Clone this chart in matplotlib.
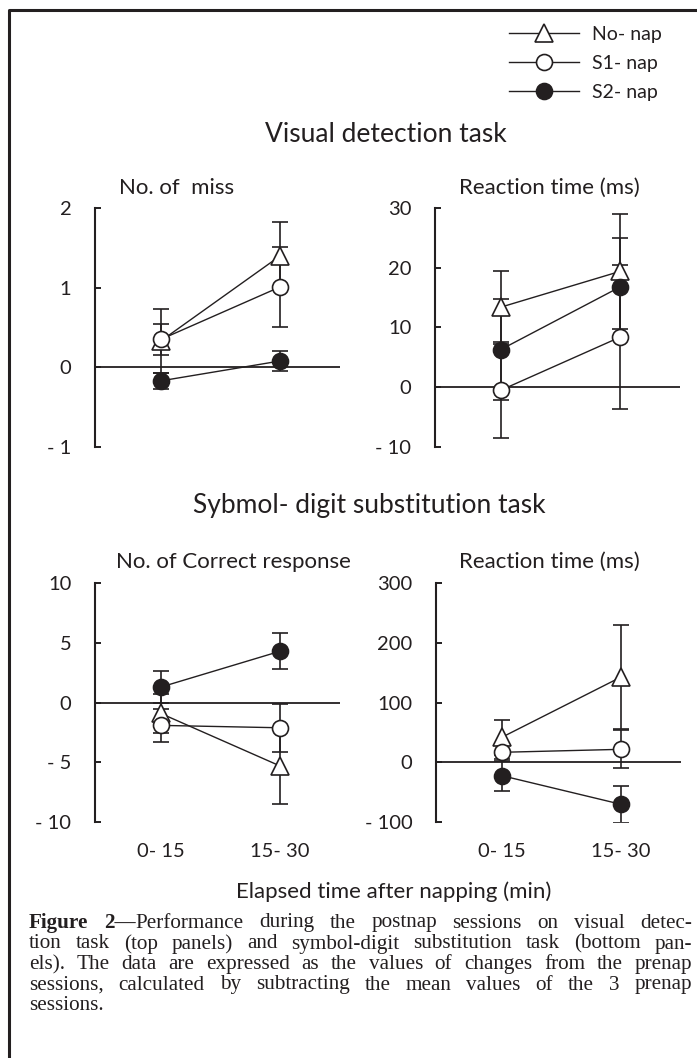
import matplotlib
matplotlib.use('Agg')
import matplotlib.pyplot as plt
from matplotlib.lines import Line2D

# Data
periods = ["0- 15", "15- 30"]
groups = ["No- nap", "S1- nap", "S2- nap"]

# visual detection: number of miss
miss_nonap = [0.33, 1.40]
miss_nonap_err = [0.40, 0.43]
miss_s1 = [0.35, 1.01]
miss_s1_err = [0.20, 0.50]
miss_s2 = [-0.17, 0.08]
miss_s2_err = [0.10, 0.13]

# visual detection: reaction time (ms)
vrt_nonap = [13.4, 19.4]
vrt_nonap_err = [6.1, 9.6]
vrt_s1 = [-0.5, 8.4]
vrt_s1_err = [8.0, 12.0]
vrt_s2 = [6.3, 16.8]
vrt_s2_err = [8.5, 8.2]

# symbol-digit: number of correct responses
corr_nonap = [-0.9, -5.3]
corr_nonap_err = [1.6, 3.2]
corr_s1 = [-1.9, -2.1]
corr_s1_err = [1.4, 2.0]
corr_s2 = [1.3, 4.3]
corr_s2_err = [1.35, 1.5]

# symbol-digit: reaction time (ms)
srt_nonap = [42, 143]
srt_nonap_err = [29, 87]
srt_s1 = [17, 22]
srt_s1_err = [12, 32]
srt_s2 = [-22, -70]
srt_s2_err = [25, 31]

ink = '#231f20'
W, H = 697, 1058
sans = 'Lato'
serif = 'Liberation Serif'


def px(x, y):
    return x / W, 1 - y / H


fig = plt.figure(figsize=(W / 100, H / 100), dpi=100)

styles = [dict(marker='^', mfc='white', ms=13),
          dict(marker='o', mfc='white', ms=11.5),
          dict(marker='o', mfc=ink, ms=11.5)]


def panel(rect, series, ylim, ticks, ticklabels, xlabels):
    ax = fig.add_axes(rect)
    x = [1, 2]
    handles = []
    for m, e in series:
        ax.errorbar(x, m, yerr=e, fmt='none', ecolor=ink, elinewidth=1.2,
                    capsize=5.8, capthick=1.2, zorder=2)
    for (m, e), st in zip(series, styles):
        h, = ax.plot(x, m, '-', color=ink, lw=1.0, mec=ink, mew=1.2,
                     zorder=3, **st)
        handles.append(h)
    ax.axhline(0, color=ink, lw=1.3, zorder=1)
    ax.set_xlim(0.45, 2.5)
    ax.set_ylim(*ylim)
    for s in ['top', 'right', 'bottom']:
        ax.spines[s].set_visible(False)
    ax.spines['left'].set_linewidth(1.5)
    ax.spines['left'].set_color(ink)
    ax.set_yticks(ticks)
    ax.set_yticklabels(ticklabels, fontsize=14.5, family=sans, color=ink)
    ax.tick_params(axis='y', direction='in', length=4, width=1.4,
                   color=ink, pad=17)
    ax.set_xticks(x)
    if xlabels:
        ax.set_xticklabels(periods, fontsize=14.5, family=sans, color=ink)
    else:
        ax.set_xticklabels([])
    ax.tick_params(axis='x', length=0, pad=15)
    ax.patch.set_visible(False)
    return handles


top_b, top_h = 1 - 447 / H, 239 / H
bot_b, bot_h = 1 - 822.3 / H, 239.3 / H
lw_ = 245 / W

handles = panel([95 / W, top_b, lw_, top_h],
                [(miss_nonap, miss_nonap_err), (miss_s1, miss_s1_err), (miss_s2, miss_s2_err)],
                (-1, 2), [-1, 0, 1, 2], ['- 1', '0', '1', '2'], False)
panel([435 / W, top_b, lw_, top_h],
      [(vrt_nonap, vrt_nonap_err), (vrt_s1, vrt_s1_err), (vrt_s2, vrt_s2_err)],
      (-10, 30), [-10, 0, 10, 20, 30], ['- 10', '0', '10', '20', '30'], False)
panel([95 / W, bot_b, lw_, bot_h],
      [(corr_nonap, corr_nonap_err), (corr_s1, corr_s1_err), (corr_s2, corr_s2_err)],
      (-10, 10), [-10, -5, 0, 5, 10], ['- 10', '- 5', '0', '5', '10'], True)
panel([436 / W, bot_b, lw_, bot_h],
      [(srt_nonap, srt_nonap_err), (srt_s1, srt_s1_err), (srt_s2, srt_s2_err)],
      (-100, 300), [-100, 0, 100, 200, 300], ['- 100', '0', '100', '200', '300'], True)

# titles
fig.text(*px(386, 135), 'Visual detection task', fontsize=19, family=sans,
         color=ink, ha='center', va='center')
fig.text(*px(369, 506), 'Sybmol- digit substitution task', fontsize=19,
         family=sans, color=ink, ha='center', va='center')
fig.text(*px(177, 188), 'No. of  miss', fontsize=16, family=sans, color=ink,
         ha='center', va='center')
fig.text(*px(549, 188), 'Reaction time (ms)', fontsize=16, family=sans,
         color=ink, ha='center', va='center')
fig.text(*px(233, 562), 'No. of Correct response', fontsize=16, family=sans,
         color=ink, ha='center', va='center')
fig.text(*px(549, 562), 'Reaction time (ms)', fontsize=16, family=sans,
         color=ink, ha='center', va='center')
fig.text(*px(394, 892), 'Elapsed time after napping (min)', fontsize=16,
         family=sans, color=ink, ha='center', va='center')

# legend
leg = fig.legend(handles, groups, loc='upper left', bbox_to_anchor=px(509, 26),
                 frameon=False, borderpad=0, borderaxespad=0, numpoints=1,
                 handlelength=3.6, handletextpad=0.65, labelspacing=0.62,
                 prop={'family': sans, 'size': 14})
for t in leg.get_texts():
    t.set_color(ink)

# frame (left and top edges)
fig.add_artist(Line2D([9 / W, 9 / W, 1], [0, 1 - 10 / H, 1 - 10 / H],
                      color=ink, lw=2.2, transform=fig.transFigure))

# caption, justified
cap_lines = [
    [[('Figure', True)], [('2—', True), ('Performance', False)], 'during', 'the',
     'postnap', 'sessions', 'on', 'visual', 'detec-'],
    ['tion', 'task', '(top', 'panels)', 'and', 'symbol-digit', 'substitution',
     'task', '(bottom', 'pan-'],
    ['els).', 'The', 'data', 'are', 'expressed', 'as', 'the', 'values', 'of',
     'changes', 'from', 'the', 'prenap'],
    ['sessions,', 'calculated', 'by', 'subtracting', 'the', 'mean', 'values',
     'of', 'the', '3', 'prenap'],
    ['sessions.'],
]
cap_y = [923, 944, 964.5, 985, 1005.5]
x0, x1 = 29, 692
renderer = fig.canvas.get_renderer()


def draw_caption(fs):
    placed = []
    min_gap = 1e9
    for i, (words, y) in enumerate(zip(cap_lines, cap_y)):
        pieces = []
        for w in words:
            segs = [(w, False)] if isinstance(w, str) else w
            objs = []
            for txt, bold in segs:
                t = fig.text(0, 1 - y / H, txt, fontsize=fs, family=serif,
                             weight='bold' if bold else 'normal', color=ink,
                             va='center', ha='left')
                objs.append(t)
                placed.append(t)
            pieces.append(objs)
        widths = [[o.get_window_extent(renderer).width for o in objs] for objs in pieces]
        total = sum(sum(w) for w in widths)
        if i < len(cap_lines) - 1:
            gap = (x1 - x0 - total) / (len(pieces) - 1)
            min_gap = min(min_gap, gap)
        else:
            gap = fs * 1.389 * 0.25
        cx = x0
        for objs, ws in zip(pieces, widths):
            for o, w in zip(objs, ws):
                o.set_x(cx / W)
                cx += w
            cx += gap
    return placed, min_gap


fs = 15.25
while True:
    placed, min_gap = draw_caption(fs)
    if min_gap >= 4.5 or fs < 12:
        break
    for t in placed:
        t.remove()
    fs -= 0.25

fig.savefig('out.png', dpi=100)
